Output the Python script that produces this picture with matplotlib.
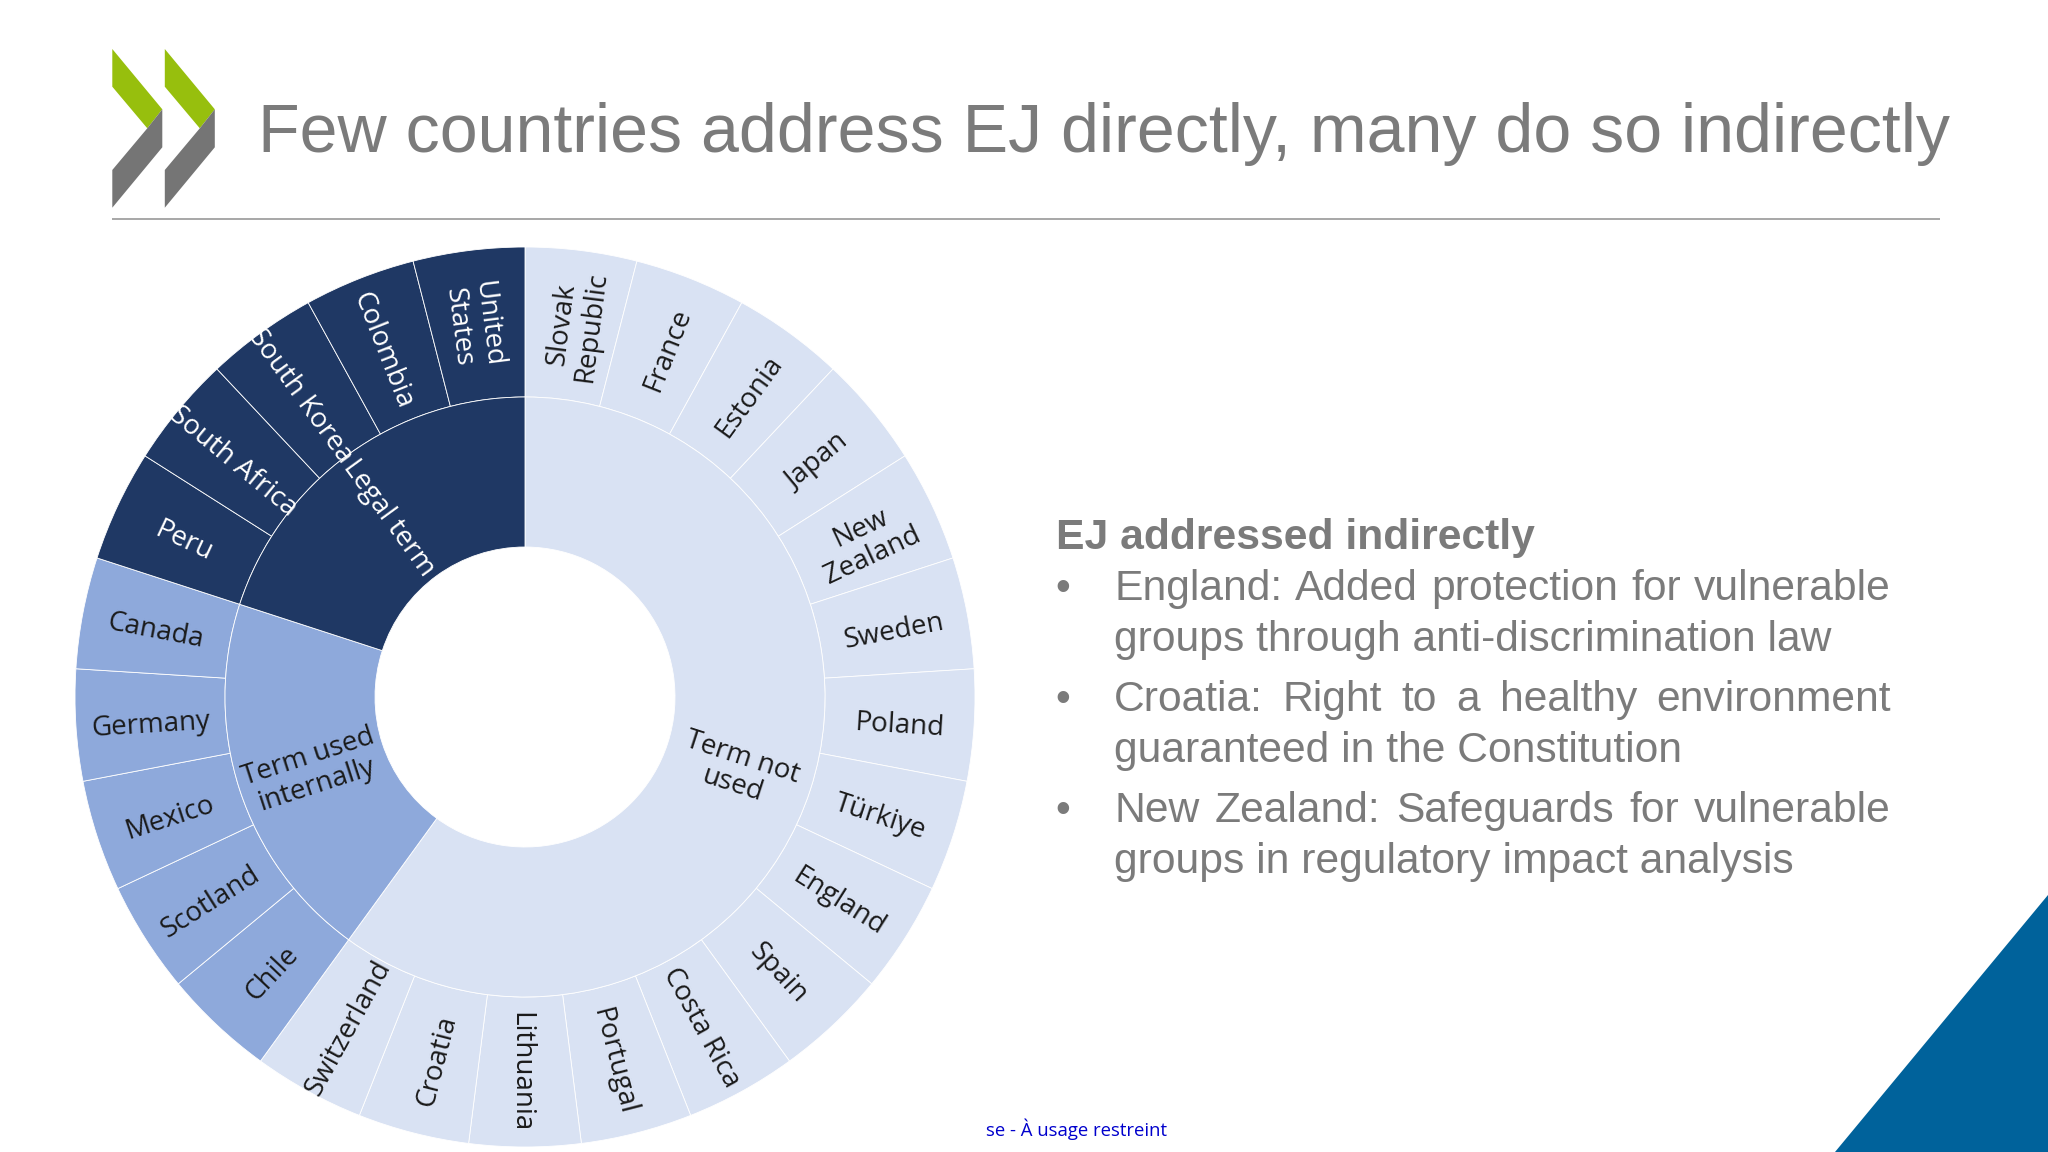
import numpy as np
import matplotlib
matplotlib.use("Agg")
import matplotlib.pyplot as plt
from matplotlib.patches import Polygon

group_labels = ["Term not\nused", "Term used\ninternally", "Legal term"]
group_counts = [15, 5, 5]
group_colors = ["#D9E2F3", "#8EA9DB", "#1F3864"]
group_text = ["#1a1a1a", "#1a1a1a", "#ffffff"]
countries = ["Slovak\nRepublic", "France", "Estonia", "Japan", "New\nZealand", "Sweden", "Poland",
             "Türkiye", "England", "Spain", "Costa Rica", "Portugal", "Lithuania", "Croatia", "Switzerland",
             "Chile", "Scotland", "Mexico", "Germany", "Canada",
             "Peru", "South Africa", "South Korea", "Colombia", "United\nStates"]
country_values = [1] * len(countries)

title = "Few countries address EJ directly, many do so indirectly"
heading = "EJ addressed indirectly"
bullets = [("England: Added protection for vulnerable", "groups through anti-discrimination law"),
           ("Croatia: Right to a healthy environment", "guaranteed in the Constitution"),
           ("New Zealand: Safeguards for vulnerable", "groups in regulatory impact analysis")]
footer = "se - À usage restreint"

W, H = 2048, 1152
fig = plt.figure(figsize=(W / 100, H / 100), dpi=100, facecolor="white")
ax = fig.add_axes([0, 0, 1, 1])
Y = lambda y: H - y

CX, CY = 525, Y(697)
R_OUT, R_MID, R_IN = 450, 300, 150
LABEL = "Open Sans"
SANS = "Liberation Sans"
GREY = "#7b7b7b"

# sunburst rings
country_colors = [c for c, n in zip(group_colors, group_counts) for _ in range(n)]
ax.pie(country_values, radius=R_OUT, center=(CX, CY), startangle=90, counterclock=False,
       colors=country_colors, wedgeprops=dict(width=R_OUT - R_MID, edgecolor="white", linewidth=0.6))
ax.pie(group_counts, radius=R_MID, center=(CX, CY), startangle=90, counterclock=False,
       colors=group_colors, wedgeprops=dict(width=R_MID - R_IN, edgecolor="white", linewidth=0.6))
ax.set_xlim(0, W)
ax.set_ylim(0, H)
ax.set_aspect("auto")
ax.axis("off")


def radial_label(text, cw_deg, r, color):
    a = np.deg2rad(cw_deg)
    rot = 90 - cw_deg
    if cw_deg > 180.01:
        rot += 180
    rr = np.deg2rad(rot)
    off = 5
    ax.text(CX + r * np.sin(a) + off * np.sin(rr), CY + r * np.cos(a) - off * np.cos(rr), text,
            rotation=rot, rotation_mode="anchor",
            ha="center", va="center", multialignment="center", color=color, family=LABEL,
            fontsize=20, linespacing=1.08)


total = sum(country_values)
cum = np.cumsum([0] + country_values)
for name, c0, v, col in zip(countries, cum[:-1], country_values, country_colors):
    tc = group_text[group_colors.index(col)]
    radial_label(name, (c0 + v / 2) / total * 360, 375, tc)
gcum = np.cumsum([0] + group_counts)
for name, c0, v, tc in zip(group_labels, gcum[:-1], group_counts, group_text):
    radial_label(name, (c0 + v / 2) / total * 360, 225, tc)

# logo
for dx in (0, 52.5):
    ax.add_patch(Polygon([(112.3 + dx, Y(49)), (162.3 + dx, Y(109.3)), (147.3 + dx, Y(128.3)), (112.3 + dx, Y(86.7))],
                         closed=True, fc="#97BF0D", ec="none"))
    ax.add_patch(Polygon([(147.3 + dx, Y(128.3)), (162.3 + dx, Y(109.3)), (162.3 + dx, Y(147.3)),
                          (112.3 + dx, Y(207.7)), (112.3 + dx, Y(170))],
                         closed=True, fc="#757575", ec="none"))

# title and rule
ax.text(258, Y(134), title, family=SANS, fontsize=49.05, color=GREY, ha="left", va="center")
ax.plot([112, 1940], [Y(219), Y(219)], color="#a0a0a0", lw=1.3, solid_capstyle="butt")

# corner triangle
ax.add_patch(Polygon([(1835, 0), (W, Y(895)), (W, 0)], closed=True, fc="#00629B", ec="none"))

# right-hand text
BODY_SIZE = 30.7
TX, TR = 1114, 1891
ax.text(1056, Y(538), heading, family=SANS, fontsize=BODY_SIZE, fontweight="bold", color=GREY,
        ha="left", va="center")
renderer = fig.canvas.get_renderer()


def justified(line, y):
    words = line.split(" ")
    arts = [ax.text(TX, y, w, family=SANS, fontsize=BODY_SIZE, color=GREY, ha="left", va="center") for w in words]
    widths = [a.get_window_extent(renderer).width for a in arts]
    gap = (TR - TX - sum(widths)) / (len(words) - 1)
    x = TX
    for a, w in zip(arts, widths):
        a.set_x(x)
        x += w + gap


ys = [(589, 640), (700, 751), (811, 862)]
for (l1, l2), (y1, y2) in zip(bullets, ys):
    ax.text(1063, Y(y1), "•", family=SANS, fontsize=BODY_SIZE, color=GREY, ha="center", va="center")
    justified(l1, Y(y1))
    ax.text(TX, Y(y2), l2, family=SANS, fontsize=BODY_SIZE, color=GREY, ha="left", va="center")

ax.text(1076, Y(1129), footer, family=LABEL, fontsize=13.3, color="#0000CC", ha="center", va="center")

fig.savefig("out.png", dpi=100, facecolor="white")
